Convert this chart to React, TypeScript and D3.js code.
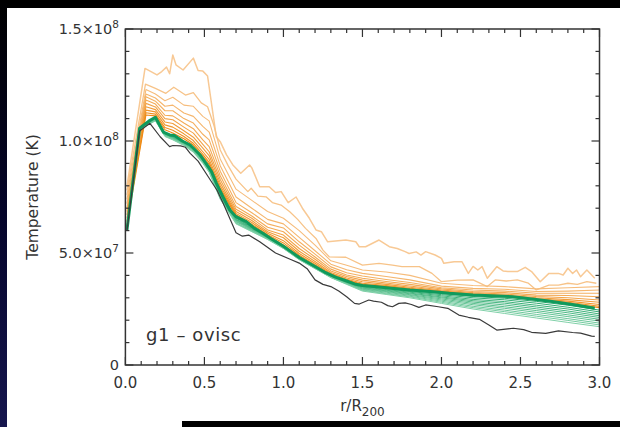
import React from "react";
import * as d3 from "d3";

// ---------- data (temperatures in units of 1e7 K) ----------
const R_TOP = [0.01,0.124,0.2,0.23,0.26,0.28,0.30,0.32,0.365,0.43,0.46,0.49,0.52,0.575,0.60,0.64,0.68,0.73,0.786,0.80,0.85,0.91,0.95,0.986,1.03,1.08,1.12,1.164,1.206,1.24,1.28,1.395,1.458,1.48,1.52,1.605,1.67,1.72,1.77,1.795,1.84,1.87,1.90,1.96,2.0,2.015,2.08,2.13,2.17,2.2,2.23,2.257,2.29,2.35,2.39,2.42,2.48,2.53,2.57,2.625,2.68,2.74,2.77,2.80,2.83,2.855,2.88,2.92,2.97];
const T_TOP = [8.0,13.24,12.95,13.1,13.3,13.0,13.84,13.4,13.17,13.7,13.15,13.12,12.9,10.19,9.97,9.38,8.93,8.56,8.93,8.8,7.96,7.96,7.7,7.74,7.25,7.5,7.0,6.55,6.03,5.95,5.5,5.58,5.5,5.28,5.28,5.58,5.28,5.2,5.06,4.98,5.05,4.91,5.06,4.91,4.76,4.54,4.61,4.61,4.09,4.4,4.24,4.39,3.87,4.39,4.2,4.17,4.17,4.36,4.17,3.72,4.09,4.09,4.02,4.32,4.09,4.24,3.94,4.24,3.87];

const R_SECOND = [0.01,0.127,0.19,0.256,0.306,0.38,0.43,0.48,0.52,0.56,0.60,0.65,0.70,0.775,0.796,0.838,0.89,0.93,0.985,1.04,1.09,1.14,1.206,1.25,1.29,1.395,1.5,1.605,1.69,1.75,1.80,1.86,1.94,2.0,2.10,2.2,2.29,2.34,2.41,2.48,2.55,2.6,2.68,2.74,2.8,2.86,2.92,2.98];
const T_SECOND = [7.8,12.54,12.35,12.13,12.4,12.05,12.16,11.7,11.53,10.7,9.6,8.9,8.3,7.74,7.89,7.54,7.51,7.25,7.14,6.84,6.5,6.1,5.65,5.13,4.83,4.81,4.46,4.54,4.46,4.39,4.39,4.39,4.09,3.72,3.79,3.8,3.5,3.8,3.75,3.8,3.65,3.35,3.57,3.57,3.65,3.6,3.72,3.65];

const R_ORANGE_MID = [0.01,0.13,0.19,0.25,0.30,0.37,0.43,0.49,0.53,0.60,0.70,0.80,0.90,1.0,1.1,1.2,1.3,1.4,1.5,1.65,1.8,2.0,2.2,2.4,2.6,2.8,3.0];
const T_ORANGE_MID = [
  [7.6,12.3,12.1,11.8,11.95,11.6,11.55,11.1,10.9,9.2,7.85,7.35,6.85,6.55,6.0,5.35,4.65,4.45,4.24,4.15,4.0,3.65,3.55,3.5,3.4,3.45,3.5],
  [7.4,12.1,11.92,11.55,11.6,11.25,11.1,10.65,10.4,8.9,7.5,7.0,6.5,6.3,5.7,5.1,4.5,4.25,4.09,3.95,3.8,3.52,3.42,3.38,3.28,3.3,3.35],
  [7.2,11.98,11.78,11.35,11.35,11.0,10.8,10.3,10.05,8.65,7.25,6.8,6.3,6.12,5.5,4.95,4.38,4.12,3.97,3.82,3.68,3.45,3.35,3.3,3.2,3.2,3.2],
  [7.0,11.83,11.65,11.15,11.12,10.8,10.55,10.05,9.75,8.45,7.08,6.65,6.15,5.95,5.35,4.82,4.28,4.02,3.87,3.73,3.6,3.4,3.28,3.23,3.12,3.1,3.05],
  [6.85,11.68,11.52,11.0,10.95,10.62,10.35,9.85,9.52,8.28,6.95,6.55,6.03,5.8,5.2,4.72,4.2,3.95,3.79,3.66,3.53,3.35,3.23,3.17,3.06,3.0,2.9],
  [6.7,11.53,11.4,10.85,10.78,10.46,10.17,9.68,9.35,8.13,6.85,6.45,5.95,5.68,5.08,4.62,4.13,3.88,3.72,3.6,3.47,3.31,3.19,3.12,3.0,2.92,2.8],
  [6.55,11.38,11.3,10.72,10.62,10.32,10.02,9.52,9.18,8.0,6.77,6.36,5.88,5.55,4.98,4.54,4.08,3.83,3.65,3.55,3.42,3.28,3.16,3.08,2.96,2.85,2.7],
  [6.4,11.26,11.2,10.6,10.48,10.2,9.9,9.4,9.05,7.9,6.71,6.28,5.82,5.45,4.9,4.48,4.04,3.79,3.6,3.51,3.39,3.26,3.14,3.06,2.93,2.8,2.62],
  [6.25,11.16,11.12,10.5,10.36,10.1,9.82,9.32,8.96,7.82,6.66,6.22,5.78,5.36,4.85,4.43,4.01,3.76,3.57,3.48,3.36,3.25,3.12,3.05,2.9,2.76,2.56],
];

const R_GREEN = [0.01,0.09,0.19,0.25,0.30,0.37,0.43,0.49,0.53,0.60,0.70,0.80,0.90,1.0,1.1,1.2,1.3,1.4,1.5,1.65,1.8,2.0,2.2,2.4,2.6,2.8,3.0];
const T_GREEN_FAN = [
  [6.03,10.56,11.04,10.38,10.23,9.98,9.73,9.23,8.87,7.72,6.59,6.15,5.74,5.29,4.79,4.39,3.99,3.74,3.53,3.44,3.32,3.19,3.06,2.98,2.84,2.67,2.45],
  [6.02,10.56,11.03,10.36,10.21,9.96,9.70,9.20,8.84,7.68,6.56,6.13,5.72,5.28,4.78,4.38,3.98,3.72,3.50,3.41,3.28,3.14,3.00,2.91,2.76,2.58,2.37],
  [6.02,10.55,11.01,10.34,10.19,9.94,9.68,9.18,8.81,7.65,6.52,6.10,5.71,5.27,4.77,4.37,3.97,3.71,3.48,3.37,3.25,3.09,2.93,2.83,2.67,2.50,2.28],
  [6.02,10.54,11.00,10.32,10.17,9.92,9.65,9.15,8.78,7.61,6.49,6.08,5.69,5.26,4.76,4.36,3.96,3.69,3.45,3.34,3.21,3.04,2.87,2.76,2.59,2.41,2.20],
  [6.02,10.54,10.98,10.30,10.15,9.90,9.63,9.13,8.75,7.58,6.46,6.06,5.68,5.25,4.75,4.35,3.95,3.68,3.43,3.31,3.18,3.00,2.81,2.68,2.51,2.33,2.12],
  [6.01,10.53,10.96,10.28,10.13,9.88,9.60,9.10,8.72,7.54,6.43,6.04,5.66,5.24,4.74,4.34,3.94,3.66,3.40,3.28,3.14,2.95,2.75,2.60,2.43,2.24,2.04],
  [6.01,10.52,10.95,10.26,10.11,9.86,9.58,9.08,8.69,7.51,6.40,6.02,5.65,5.23,4.73,4.33,3.93,3.65,3.38,3.25,3.11,2.90,2.69,2.53,2.35,2.16,1.96],
  [6.01,10.51,10.93,10.24,10.09,9.84,9.55,9.05,8.66,7.47,6.36,5.99,5.63,5.22,4.72,4.32,3.92,3.63,3.35,3.21,3.07,2.85,2.62,2.45,2.26,2.07,1.87],
  [6.00,10.51,10.92,10.22,10.07,9.82,9.53,9.03,8.63,7.44,6.33,5.97,5.62,5.21,4.71,4.31,3.91,3.62,3.33,3.18,3.04,2.80,2.56,2.38,2.18,1.99,1.79],
  [6.00,10.50,10.90,10.20,10.05,9.80,9.50,9.00,8.60,7.40,6.30,5.95,5.60,5.20,4.70,4.30,3.90,3.60,3.30,3.15,3.00,2.75,2.50,2.30,2.10,1.90,1.71],
];

const R_THICK = [0.01,0.09,0.15,0.19,0.24,0.28,0.31,0.36,0.41,0.47,0.51,0.545,0.576,0.617,0.66,0.70,0.765,0.817,0.87,0.92,1.0,1.05,1.10,1.15,1.20,1.26,1.33,1.40,1.45,1.5,1.575,1.7,1.8,1.95,2.05,2.2,2.35,2.45,2.6,2.7,2.85,2.97];
const T_THICK = [6.03,10.57,10.9,11.06,10.4,10.27,10.25,10.0,9.82,9.4,9.0,8.63,8.11,7.51,6.92,6.62,6.4,6.1,5.88,5.65,5.3,5.05,4.8,4.6,4.4,4.15,3.92,3.75,3.62,3.55,3.5,3.42,3.35,3.27,3.2,3.12,3.08,3.05,2.92,2.83,2.68,2.53];

const R_BLACK = [0.01,0.09,0.155,0.22,0.28,0.30,0.35,0.38,0.41,0.46,0.52,0.58,0.62,0.70,0.74,0.78,0.85,0.95,1.05,1.10,1.15,1.20,1.25,1.30,1.35,1.40,1.45,1.48,1.54,1.57,1.62,1.66,1.69,1.73,1.77,1.81,1.857,1.90,1.98,2.04,2.11,2.17,2.24,2.30,2.35,2.455,2.52,2.57,2.66,2.74,2.83,2.88,2.95,2.97];
const T_BLACK = [6.0,10.45,10.79,10.19,9.75,9.8,9.78,9.72,9.45,9.1,8.45,7.8,7.2,5.9,5.75,5.8,5.5,5.0,4.7,4.55,4.3,3.8,3.6,3.5,3.3,3.05,2.75,2.72,2.9,2.85,2.8,2.65,2.6,2.75,2.77,2.7,2.57,2.68,2.6,2.53,2.23,2.13,2.04,1.79,1.56,1.64,1.58,1.46,1.41,1.52,1.45,1.42,1.29,1.28];

const X_TICKS = [0, 0.5, 1.0, 1.5, 2.0, 2.5, 3.0];
const X_TICK_LABELS = ["0.0", "0.5", "1.0", "1.5", "2.0", "2.5", "3.0"];
const Y_TICKS = [0, 5e7, 1e8, 1.5e8];
const Y_TICK_MANT = ["0", "5.0×10", "1.0×10", "1.5×10"];
const Y_TICK_EXP = ["", "7", "8", "8"];

// ---------- layout ----------
const W = 620, H = 427;
const PL = 125.4, PR = 599.5, PT = 29, PB = 365;
const FONT = "'DejaVu Sans', sans-serif";
const AX = "#333";

export default function App() {
  const x = d3.scaleLinear().domain([0, 3]).range([PL, PR]);
  const y = d3.scaleLinear().domain([0, 1.5e8]).range([PB, PT]);
  const line = d3.line<[number, number]>().x(d => x(d[0])).y(d => y(d[1] * 1e7));
  const pts = (rs: number[], ts: number[]) => rs.map((r, i) => [r, ts[i]] as [number, number]);

  const orangeCol = d3.interpolateRgb("#f8c995", "#ee8a14");
  const greenCol = d3.interpolateRgb("#2aa86c", "#80d0a8");

  const xMinor = d3.range(0, 3.0001, 0.1);
  const yMinor = d3.range(0, 1.5e8 + 1, 1e7);

  const nO = T_ORANGE_MID.length + 2;

  return (
    <svg width={W} height={H} style={{ position: "fixed", left: 0, top: 0 }} xmlns="http://www.w3.org/2000/svg">
      <defs>
        <linearGradient id="leftStrip" x1="0" y1="0" x2="0" y2="1">
          <stop offset="0" stopColor="#000" />
          <stop offset="0.5" stopColor="#05052a" />
          <stop offset="1" stopColor="#16164e" />
        </linearGradient>
        <clipPath id="plotClip">
          <rect x={PL} y={PT} width={PR - PL} height={PB - PT} />
        </clipPath>
      </defs>
      <rect x={0} y={0} width={W} height={H} fill="#000" />
      <rect x={0} y={0} width={7} height={H} fill="url(#leftStrip)" />
      <rect x={7} y={8} width={W - 7} height={413} fill="#fff" />
      <rect x={7} y={420} width={175} height={7} fill="#fff" />

      <g clipPath="url(#plotClip)" fill="none" strokeLinejoin="round">
        <path d={line(pts(R_TOP, T_TOP)) || ""} stroke={orangeCol(0)} strokeWidth={1.5} />
        <path d={line(pts(R_SECOND, T_SECOND)) || ""} stroke={orangeCol(1 / (nO - 1))} strokeWidth={1.3} />
        {T_ORANGE_MID.map((ts, i) => (
          <path key={"o" + i} d={line(pts(R_ORANGE_MID, ts)) || ""} stroke={orangeCol((i + 2) / (nO - 1))} strokeWidth={1.1} />
        ))}
        {T_GREEN_FAN.map((ts, i) => (
          <path key={"g" + i} d={line(pts(R_GREEN, ts)) || ""} stroke={greenCol(i / (T_GREEN_FAN.length - 1))} strokeWidth={1} />
        ))}
        <path d={line(pts(R_THICK, T_THICK)) || ""} stroke="#0f9a5c" strokeWidth={3} />
        <path d={line(pts(R_BLACK, T_BLACK)) || ""} stroke="#3a3a3a" strokeWidth={1.2} />
      </g>

      {/* axes box */}
      <rect x={PL} y={PT} width={PR - PL} height={PB - PT} fill="none" stroke={AX} strokeWidth={1.5} />
      <g stroke={AX} strokeWidth={1.2}>
        {xMinor.map((v, i) => {
          const major = i % 5 === 0;
          const len = major ? 8 : 4;
          return (
            <g key={"xm" + i}>
              <line x1={x(v)} x2={x(v)} y1={PB} y2={PB - len} />
              <line x1={x(v)} x2={x(v)} y1={PT} y2={PT + len} />
            </g>
          );
        })}
        {yMinor.map((v, i) => {
          const major = i % 5 === 0;
          const len = major ? 8 : 4;
          return (
            <g key={"ym" + i}>
              <line x1={PL} x2={PL + len} y1={y(v)} y2={y(v)} />
              <line x1={PR} x2={PR - len} y1={y(v)} y2={y(v)} />
            </g>
          );
        })}
      </g>

      <g fontFamily={FONT} fill={AX} fontSize={15}>
        {X_TICKS.map((v, i) => (
          <text key={"xl" + i} x={x(v)} y={388} textAnchor="middle">{X_TICK_LABELS[i]}</text>
        ))}
        {Y_TICKS.map((v, i) => (
          <text key={"yl" + i} x={Y_TICK_EXP[i] ? 119 : 119} y={y(v) + 5} textAnchor="end" fontSize={14.5}>
            {Y_TICK_MANT[i]}
            {Y_TICK_EXP[i] ? <tspan dy={-6} fontSize={10.5}>{Y_TICK_EXP[i]}</tspan> : null}
          </text>
        ))}
        <text x={(PL + PR) / 2} y={411} textAnchor="middle">
          r/R<tspan dy={5} fontSize={12}>200</tspan>
        </text>
        <text transform={`translate(38, ${(PT + PB) / 2}) rotate(-90)`} textAnchor="middle" fontSize={15.5}>Temperature (K)</text>
        <text x={146} y={341} fontSize={18} letterSpacing={0.6}>g1 – ovisc</text>
      </g>

      <rect x={182} y={421} width={W - 182} height={6} fill="#000" />
    </svg>
  );
}
